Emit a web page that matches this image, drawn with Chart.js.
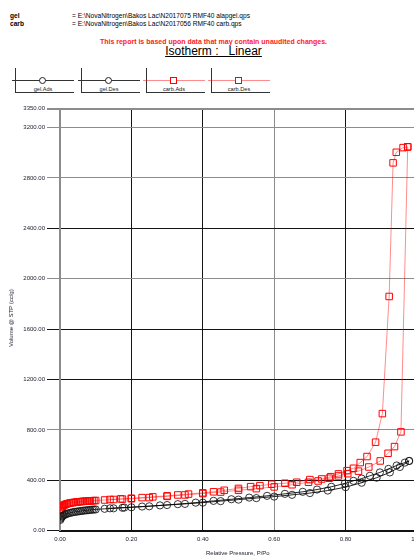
<!DOCTYPE html>
<html>
<head>
<meta charset="utf-8">
<script src="https://cdn.jsdelivr.net/npm/chart.js@4.4.1/dist/chart.umd.min.js"></script>
<style>
  html, body { margin: 0; padding: 0; background: #fff; width: 414px; height: 559px; overflow: hidden; }
  body { position: relative; font-family: "Liberation Sans", Arial, sans-serif; color: #000; }
  #wrap { position: absolute; left: 0; top: 0; width: 430px; height: 559px; }
  .t { position: absolute; white-space: pre; line-height: 1; color: #000; }
  .hdr { font-size: 6.6px; font-weight: bold; color: #000; }
  .file { font-size: 6.6px; color: #000; }
  .warn { left: 0; width: 427px; text-align: center; top: 38px; color: #ff1a1a; font-weight: bold; font-size: 7px; }
  .title { left: 0; width: 427px; text-align: center; top: 45px; font-size: 12px; text-decoration: underline; color: #000; }
  .lg-v { position: absolute; width: 1px; background: #333; top: 68px; height: 25px; }
  .lg-b { position: absolute; height: 1px; background: #333; top: 92px; width: 59px; }
  .lg-h { position: absolute; height: 1px; top: 80px; width: 62px; }
  .lg-c { position: absolute; width: 5px; height: 5px; border: 1px solid #222; border-radius: 50%; top: 77px; background: #fff; }
  .lg-s { position: absolute; width: 5px; height: 5px; border: 1px solid #f00; top: 77px; background: #fff; }
  .lg-t { position: absolute; top: 85.5px; width: 60px; text-align: center; font-size: 5.6px; color: #222; }
  .axt { font-size: 6px; color: #223; }
</style>
</head>
<body>
<div class="t hdr" style="left:10px;top:13px;">gel</div>
<div class="t hdr" style="left:10px;top:21px;">carb</div>
<div class="t file" style="left:72px;top:13px;">= E:\NovaNitrogen\Bakos Lac\N2017075 RMF40 alapgel.qps</div>
<div class="t file" style="left:72px;top:21px;">= E:\NovaNitrogen\Bakos Lac\N2017056 RMF40 carb.qps</div>
<div class="t warn">This report is based upon data that may contain unaudited changes.</div>
<div class="t title">Isotherm :   Linear</div>
<div id="legend"></div>
<div id="wrap"><canvas id="c" width="430" height="559"></canvas></div>
<div class="t axt" style="left:206px;top:550px;">Relative Pressure, P/Po</div>
<div class="t axt" style="left:11px;top:318px;transform:translate(-50%,-50%) rotate(-90deg);">Volume @ STP (cc/g)</div>
<script>
// Axis ticks
const xTicks = [0, 0.2, 0.4, 0.6, 0.8, 1.0];
const yTicks = [0, 400, 800, 1200, 1600, 2000, 2400, 2800, 3200, 3350];

// Series names
const seriesNames = ["gel.Ads", "gel.Des", "carb.Ads", "carb.Des"];

// gel adsorption branch: relative pressure, volume (cc/g STP)
const gelAdsP = [0.001, 0.002, 0.004, 0.006, 0.008, 0.010, 0.013, 0.016, 0.020, 0.025, 0.030, 0.035, 0.040, 0.045, 0.050,
  0.055, 0.060, 0.065, 0.070, 0.075, 0.080, 0.085, 0.090, 0.095, 0.100, 0.125, 0.150, 0.175, 0.200, 0.250, 0.300,
  0.350, 0.400, 0.450, 0.500, 0.550, 0.600, 0.650, 0.700, 0.750, 0.800, 0.845, 0.887, 0.924, 0.952, 0.978];
const gelAdsV = [85, 95, 105, 112, 117, 121, 126, 130, 134, 138, 142, 145, 148, 150, 152,
  154, 156, 158, 160, 161, 163, 164, 166, 167, 168, 173, 177, 181, 185, 193, 203,
  212, 222, 234, 246, 258, 270, 284, 298, 318, 345, 380, 420, 462, 505, 553];

// gel desorption branch
const gelDesP = [0.978, 0.966, 0.943, 0.920, 0.896, 0.868, 0.845, 0.822, 0.798, 0.760, 0.720, 0.680, 0.630, 0.580,
  0.530, 0.480, 0.430, 0.380, 0.330, 0.280, 0.230, 0.180, 0.140];
const gelDesV = [553, 540, 517, 490, 462, 435, 413, 395, 375, 348, 326, 308, 292, 276,
  262, 249, 236, 222, 210, 200, 191, 183, 177];

// carb adsorption branch
const carbAdsP = [0.001, 0.002, 0.004, 0.006, 0.008, 0.010, 0.013, 0.016, 0.020, 0.025, 0.030, 0.035, 0.040, 0.045, 0.050,
  0.055, 0.060, 0.065, 0.070, 0.075, 0.080, 0.085, 0.090, 0.095, 0.100, 0.125, 0.150, 0.175, 0.200, 0.250, 0.300,
  0.350, 0.400, 0.450, 0.500, 0.550, 0.600, 0.650, 0.696, 0.723, 0.754, 0.780, 0.806, 0.836, 0.865, 0.897, 0.919,
  0.937, 0.955, 0.974];
const carbAdsV = [158, 170, 182, 190, 196, 200, 205, 209, 213, 217, 220, 222, 224, 226, 228,
  229, 231, 232, 233, 234, 235, 236, 237, 238, 239, 243, 247, 250, 253, 262, 272,
  283, 294, 306, 320, 333, 347, 364, 384, 394, 416, 434, 452, 472, 505, 553, 614,
  667, 784, 3047];

// carb desorption branch
const carbDesP = [0.974, 0.961, 0.942, 0.933, 0.922, 0.903, 0.884, 0.860, 0.841, 0.822, 0.804, 0.780, 0.758, 0.733,
  0.700, 0.663, 0.630, 0.593, 0.560, 0.534, 0.500, 0.460, 0.430, 0.400, 0.360, 0.330, 0.300, 0.260, 0.230, 0.200,
  0.170, 0.140];
const carbDesV = [3047, 3041, 3004, 2920, 1859, 929, 702, 588, 540, 495, 476, 450, 428, 410,
  405, 384, 376, 368, 357, 349, 335, 320, 308, 300, 290, 283, 276, 268, 262, 257,
  252, 247];

const pts = (P, V) => P.map((p, i) => ({ x: p, y: V[i] }));

// grid line shades per tick value
const DARK = '#141414', GREY = '#8c8c8c';
const yGridShade = { 0: DARK, 400: DARK, 800: GREY, 1200: DARK, 1600: DARK, 2000: GREY, 2400: DARK, 2800: GREY, 3200: GREY, 3350: GREY };
const xGridShade = v => (Math.abs(v - 0.6) < 1e-6 ? GREY : DARK);

// legend row
const legendStyles = [
  { left: 15, kind: 'c', line: '#333' },
  { left: 81, kind: 'c', line: '#333' },
  { left: 146, kind: 's', line: 'rgba(255,0,0,0.45)' },
  { left: 211, kind: 's', line: 'rgba(255,0,0,0.45)' }
];
const lg = document.getElementById('legend');
seriesNames.forEach((name, i) => {
  const s = legendStyles[i];
  const add = (cls, css, txt) => {
    const d = document.createElement('div');
    d.className = cls; Object.assign(d.style, css);
    if (txt) d.textContent = txt;
    lg.appendChild(d);
  };
  add('lg-v', { left: s.left + 'px' });
  add('lg-h', { left: (s.left - 3) + 'px', background: s.line });
  add('lg-b', { left: s.left + 'px' });
  add(s.kind === 'c' ? 'lg-c' : 'lg-s', { left: (s.left + 24) + 'px' });
  add('lg-t', { left: (s.left - 2) + 'px' }, name);
});

const tickFont = { family: '"Liberation Sans", Arial, sans-serif', size: 6 };

const circleSet = (label, data) => ({
  label, data, showLine: true,
  borderColor: 'rgba(0,0,0,0.85)', borderWidth: 1,
  pointStyle: 'circle', pointRadius: 3.6, pointBorderWidth: 1,
  pointBorderColor: 'rgba(20,20,20,0.85)', pointBackgroundColor: 'rgba(0,0,0,0)'
});
const squareSet = (label, data) => ({
  label, data, showLine: true,
  borderColor: 'rgba(255,0,0,0.45)', borderWidth: 1,
  pointStyle: 'rect', pointRadius: 4.6, pointBorderWidth: 1,
  pointBorderColor: '#ff0000', pointBackgroundColor: 'rgba(0,0,0,0)'
});

new Chart(document.getElementById('c'), {
  type: 'scatter',
  data: {
    datasets: [
      circleSet(seriesNames[0], pts(gelAdsP, gelAdsV)),
      circleSet(seriesNames[1], pts(gelDesP, gelDesV)),
      squareSet(seriesNames[2], pts(carbAdsP, carbAdsV)),
      squareSet(seriesNames[3], pts(carbDesP, carbDesV))
    ]
  },
  options: {
    responsive: false,
    animation: false,
    devicePixelRatio: 1,
    layout: { padding: { top: 108.7, right: 13, bottom: 0, left: 0 } },
    plugins: { legend: { display: false }, tooltip: { enabled: false }, title: { display: false } },
    scales: {
      x: {
        type: 'linear', min: 0, max: 1,
        afterBuildTicks: s => { s.ticks = xTicks.map(v => ({ value: v })); },
        afterFit: s => { s.height = 28.4; },
        grid: {
          drawTicks: false,
          color: c => xGridShade(c.tick ? c.tick.value : 0),
          lineWidth: 1
        },
        border: { display: true, color: '#111', width: 2 },
        ticks: {
          font: tickFont, color: '#223', padding: 5, maxRotation: 0,
          callback: v => Number(v).toFixed(2)
        }
      },
      y: {
        type: 'linear', min: 0, max: 3350,
        afterBuildTicks: s => { s.ticks = yTicks.map(v => ({ value: v })); },
        afterFit: s => { s.width = 60; },
        grid: {
          drawTicks: true, tickLength: 13,
          color: c => yGridShade[c.tick ? c.tick.value : 0] || DARK,
          lineWidth: c => (c.tick && c.tick.value === 3350 ? 2 : 1)
        },
        border: { display: true, color: '#8c8c8c', width: 2 },
        ticks: {
          font: tickFont, color: '#223', padding: 2,
          callback: v => Number(v).toFixed(2)
        }
      }
    }
  }
});
</script>
</body>
</html>
